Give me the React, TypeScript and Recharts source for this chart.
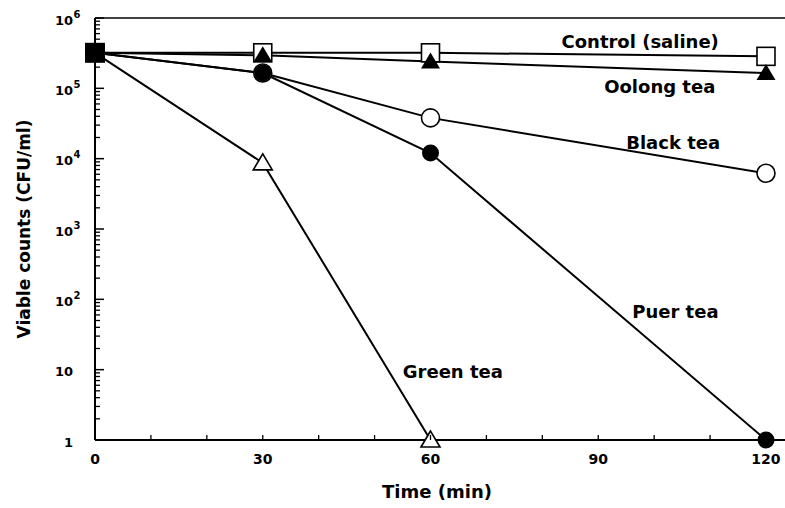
import React from 'react';
import { LineChart, Line, XAxis, YAxis, ReferenceLine, ReferenceDot, Label } from 'recharts';

// sampling times (min)
const times = [0, 30, 60, 120];

// viable counts (CFU/ml) per treatment
const control = [3.2e5, 3.2e5, 3.2e5, 2.85e5];
const oolong = [3.2e5, 2.95e5, 2.4e5, 1.65e5];
const black = [3.2e5, 1.65e5, 3.8e4, 6.2e3];
const puer = [3.2e5, 1.65e5, 1.2e4, 1];
const green = [3.2e5, 8.7e3, 1, null];

const xTicks = [0, 10, 20, 30, 40, 50, 60, 70, 80, 90, 100, 110, 120];
const xLabelTicks = [0, 30, 60, 90, 120];
const decades = [1, 10, 100, 1000, 10000, 100000, 1000000];
const yTicks = decades.slice(0, -1).flatMap((d) => [1, 2, 3, 4, 5, 6, 7, 8, 9].map((m) => m * d)).concat([1e6]);

// in-plot series names, placed in data units
const seriesLabels = [
  { text: 'Control (saline)', t: 97.5, v: 4.6e5 },
  { text: 'Oolong tea', t: 101, v: 1.05e5 },
  { text: 'Black tea', t: 103.4, v: 1.67e4 },
  { text: 'Puer tea', t: 103.8, v: 66 },
  { text: 'Green tea', t: 64, v: 9.3 },
];

const data = times.map((t, i) => ({
  t,
  control: control[i],
  oolong: oolong[i],
  black: black[i],
  puer: puer[i],
  green: green[i],
}));

const FONT = '"DejaVu Sans", sans-serif';

const makeDot = (kind: string) => (props: any) => {
  const { cx, cy, index, value } = props;
  const key = `${kind}-${index}`;
  if (cx == null || cy == null || value == null) return <g key={key} />;
  // the shared starting point shows as one solid block
  if (index === 0) {
    if (kind !== 'control') return <g key={key} />;
    return <rect key={key} x={cx - 10} y={cy - 10} width={20} height={20} fill="#000" />;
  }
  switch (kind) {
    case 'control':
      return <rect key={key} x={cx - 9} y={cy - 9} width={18} height={18} fill="#fff" stroke="#000" strokeWidth={1.6} />;
    case 'oolong':
      return <polygon key={key} points={`${cx},${cy - 9} ${cx - 9.5},${cy + 7} ${cx + 9.5},${cy + 7}`} fill="#000" />;
    case 'black':
      return <circle key={key} cx={cx} cy={cy} r={9} fill="#fff" stroke="#000" strokeWidth={1.6} />;
    case 'puer':
      return <circle key={key} cx={cx} cy={cy} r={8.5} fill="#000" />;
    default:
      return <polygon key={key} points={`${cx},${cy - 9} ${cx - 9.5},${cy + 7} ${cx + 9.5},${cy + 7}`} fill="#fff" stroke="#000" strokeWidth={1.6} />;
  }
};

// inward log ticks: long at each decade (with label), short in between
const YTick = (props: any) => {
  const { x, y, payload } = props;
  const v = payload.value;
  const axisX = x + 20;
  const exp = Math.round(Math.log10(v));
  const major = Math.abs(Math.pow(10, exp) - v) < 1e-6;
  if (!major) {
    return <path d={`M${axisX},${y}h5`} stroke="#000" strokeWidth={1.3} />;
  }
  const base = exp === 0 ? '1' : '10';
  return (
    <g>
      <path d={`M${axisX},${y}h9`} stroke="#000" strokeWidth={1.5} />
      <text x={axisX - 22} y={y + 2} textAnchor="end" dominantBaseline="central" fontFamily={FONT} fontWeight="bold" fontSize={13} fill="#000">
        {base}
      </text>
      {exp >= 2 && (
        <text x={axisX - 21.5} y={y - 4} textAnchor="start" dominantBaseline="central" fontFamily={FONT} fontWeight="bold" fontSize={10} fill="#000">
          {exp}
        </text>
      )}
    </g>
  );
};

const XTick = (props: any) => {
  const { x, y, payload } = props;
  const axisY = y - 12;
  return (
    <g>
      <path d={`M${x},${axisY}v-5`} stroke="#000" strokeWidth={1.3} />
      {xLabelTicks.includes(payload.value) && (
        <text x={x} y={axisY + 19} textAnchor="middle" dominantBaseline="central" fontFamily={FONT} fontWeight="bold" fontSize={14} fill="#000">
          {payload.value}
        </text>
      )}
    </g>
  );
};

export default function App() {
  return (
    <div style={{ position: 'absolute', left: 0, top: 0, background: '#fff' }}>
      <LineChart width={785} height={508} data={data} margin={{ top: 18, right: 0, bottom: 0, left: 0 }}>
        <XAxis
          type="number"
          dataKey="t"
          domain={[0, 123.4]}
          ticks={xTicks}
          interval={0}
          height={68}
          tickSize={0}
          tickMargin={12}
          tickLine={false}
          axisLine={{ stroke: '#000', strokeWidth: 2 }}
          tick={<XTick />}
        >
          <Label
            content={(p: any) => (
              <text
                x={p.viewBox.x + p.viewBox.width / 2 - 3}
                y={p.viewBox.y + 51}
                textAnchor="middle"
                dominantBaseline="central"
                fontFamily={FONT}
                fontWeight="bold"
                fontSize={18}
                fill="#000"
              >
                Time (min)
              </text>
            )}
          />
        </XAxis>
        <YAxis
          type="number"
          scale="log"
          domain={[1, 1e6]}
          ticks={yTicks}
          interval={0}
          width={95}
          tickSize={0}
          tickMargin={20}
          tickLine={false}
          axisLine={{ stroke: '#000', strokeWidth: 2 }}
          tick={<YTick />}
        >
          <Label
            content={(p: any) => {
              const cx = p.viewBox.x + 24;
              const cy = p.viewBox.y + p.viewBox.height / 2;
              return (
                <text
                  x={cx}
                  y={cy}
                  transform={`rotate(-90, ${cx}, ${cy})`}
                  textAnchor="middle"
                  dominantBaseline="central"
                  fontFamily={FONT}
                  fontWeight="bold"
                  fontSize={17}
                  fill="#000"
                >
                  Viable counts (CFU/ml)
                </text>
              );
            }}
          />
        </YAxis>
        <ReferenceLine y={1e6} stroke="#000" strokeWidth={1.5} />
        <Line dataKey="control" stroke="#000" strokeWidth={2} dot={makeDot('control')} activeDot={false} isAnimationActive={false} />
        <Line dataKey="oolong" stroke="#000" strokeWidth={2} dot={makeDot('oolong')} activeDot={false} isAnimationActive={false} />
        <Line dataKey="black" stroke="#000" strokeWidth={2} dot={makeDot('black')} activeDot={false} isAnimationActive={false} />
        <Line dataKey="puer" stroke="#000" strokeWidth={2} dot={makeDot('puer')} activeDot={false} isAnimationActive={false} />
        <Line dataKey="green" stroke="#000" strokeWidth={2} dot={makeDot('green')} activeDot={false} isAnimationActive={false} />
        {seriesLabels.map((s) => (
          <ReferenceDot
            key={s.text}
            x={s.t}
            y={s.v}
            r={1}
            fill="none"
            stroke="none"
            label={{ value: s.text, position: 'center', fontFamily: FONT, fontWeight: 'bold', fontSize: 18, fill: '#000' }}
          />
        ))}
      </LineChart>
    </div>
  );
}
